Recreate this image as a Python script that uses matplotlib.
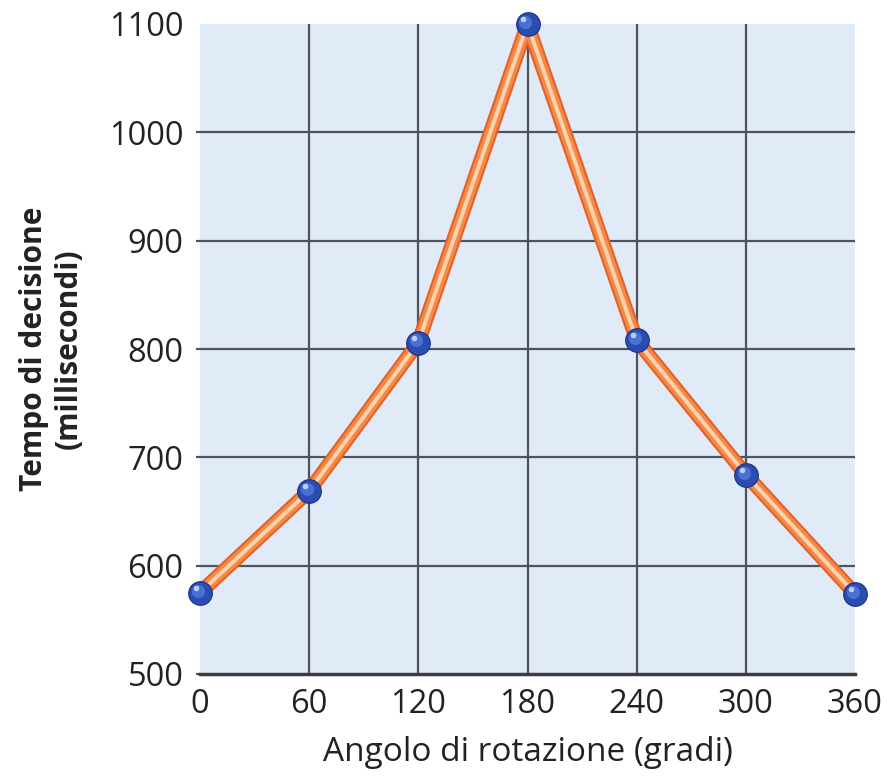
import matplotlib
matplotlib.use("Agg")
import matplotlib.pyplot as plt
from matplotlib.transforms import offset_copy

angles = [0, 60, 120, 180, 240, 300, 360]
times = [575, 669, 806, 1100, 808, 684, 574]
x_ticks = [0, 60, 120, 180, 240, 300, 360]
y_ticks = [500, 600, 700, 800, 900, 1000, 1100]

plt.rcParams['font.family'] = ['Open Sans', 'DejaVu Sans']

fig = plt.figure(figsize=(8.91, 7.76), dpi=100)
ax = fig.add_axes([200/891, 1 - 674/776, 655/891, 650/776])
ax.set_facecolor('#e1ebf8')

ax.set_xlim(0, 360)
ax.set_ylim(500, 1100)
ax.set_xticks(x_ticks)
ax.set_yticks(y_ticks)

# grid
for yv in y_ticks[1:-1]:
    ax.axhline(yv, color='#4f545b', lw=1.6, zorder=1)
for xv in x_ticks[1:-1]:
    ax.axvline(xv, color='#4f545b', lw=1.6, zorder=1)

for s in ['top', 'right', 'left']:
    ax.spines[s].set_visible(False)
ax.spines['bottom'].set_color('#3a3d42')
ax.spines['bottom'].set_linewidth(2.5)

ax.tick_params(axis='x', length=0, pad=10, labelsize=23.5, labelcolor='#222222')
ax.tick_params(axis='y', length=3, width=1.6, color='#4f545b', pad=9,
               labelsize=23.5, labelcolor='#222222')
ax.get_yticklines()[-2].set_visible(False)

# line with light core
ax.plot(angles, times, color='#e4612a', lw=10.5, solid_joinstyle='round',
        zorder=3, clip_on=False)
ax.plot(angles, times, color='#f58a45', lw=7.5, solid_joinstyle='round',
        zorder=3, clip_on=False)
ax.plot(angles, times, color='#fcd2b0', lw=2.8, solid_joinstyle='round',
        zorder=4, clip_on=False)

# sphere-like markers
ax.plot(angles, times, 'o', ms=17, color='#2b4cb3', mec='#1c2f7e', mew=0.8,
        zorder=5, clip_on=False)
ax.plot(angles, times, 'o', ms=9.5, color='#4a70d4', mec='none',
        transform=offset_copy(ax.transData, fig=fig, x=-1.5, y=1.5, units='points'),
        zorder=6, clip_on=False)
ax.plot(angles, times, 'o', ms=4, color='#b9cdf5', mec='none',
        transform=offset_copy(ax.transData, fig=fig, x=-3, y=3.5, units='points'),
        zorder=7, clip_on=False)

ax.set_xlabel('Angolo di rotazione (gradi)', fontsize=24, fontweight='medium',
              color='#222222', labelpad=11)
ax.set_ylabel('Tempo di decisione\n(millisecondi)', fontsize=21.5,
              fontweight='bold', color='#222222', labelpad=18, linespacing=1.2)

fig.savefig('out.png', dpi=100, facecolor='white')
